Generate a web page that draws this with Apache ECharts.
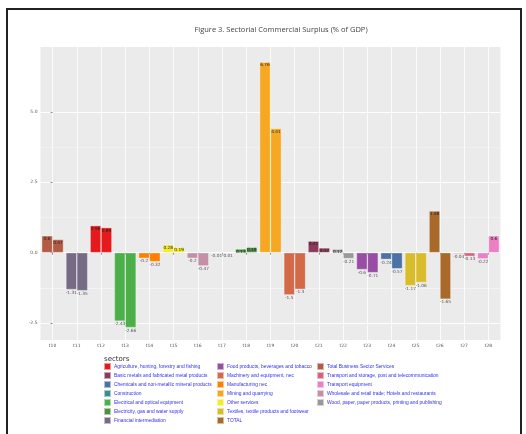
<!DOCTYPE html>
<html>
<head>
<meta charset="utf-8">
<script src="https://cdn.jsdelivr.net/npm/echarts@6/dist/echarts.min.js"></script>
<style>
html,body{margin:0;padding:0;background:#fff;}
#wrap{position:relative;width:526px;height:434px;overflow:hidden;}
#chart{position:absolute;left:0;top:0;width:526px;height:434px;}
#frame{position:absolute;left:6px;top:8px;width:512px;height:440px;border:2px solid #222;pointer-events:none;}
</style>
</head>
<body>
<div id="wrap"><div id="chart"></div><div id="frame"></div></div>
<script>
// ---- data ----
const title = 'Figure 3. Sectorial Commercial Surplus (% of GDP)';
const categories = ['t10','t11','t12','t13','t14','t15','t16','t17','t18','t19','t20','t21','t22','t23','t24','t25','t26','t27','t28'];
const yTickValues = [-2.5, 0, 2.5, 5];
// sectors in legend order
const sectors = [
  'Agriculture, hunting, forestry and fishing',
  'Basic metals and fabricated metal products',
  'Chemicals and non-metallic mineral products',
  'Construction',
  'Electrical and optical equipment',
  'Electricity, gas and water supply',
  'Financial intermediation',
  'Food products, beverages and tobacco',
  'Machinery and equipment, nec',
  'Manufacturing nec',
  'Mining and quarrying',
  'Other services',
  'Textiles, textile products and footwear',
  'TOTAL',
  'Total Business Sector Services',
  'Transport and storage, post and telecommunication',
  'Transport equipment',
  'Wholesale and retail trade; Hotels and restaurants',
  'Wood, paper, paper products, printing and publishing'
];
// category of each sector (index into categories)
const sectorCategory = [2, 11, 14, 7, 3, 8, 1, 13, 10, 4, 9, 5, 15, 16, 0, 17, 18, 6, 12];
// values per sector, first and second bar
const valuesFirst  = [0.96, 0.41, -0.24, -0.01, -2.43, 0.13, -1.31, -0.60, -1.50, -0.20, 6.76, 0.28, -1.17, 1.48, 0.60, -0.04, -0.22, -0.20, 0.12];
const valuesSecond = [0.89, 0.17, -0.57, -0.01, -2.66, 0.19, -1.35, -0.71, -1.30, -0.32, 4.41, 0.19, -1.06, -1.65, 0.47, -0.13, 0.60, -0.47, -0.21];
// colours (style)
const sectorColors = ['#E41A1C','#8B3A5C','#4A72A6','#3D8F8F','#4DAF4A','#4E8F45','#776A85','#984EA3','#D4694A','#FF7F00','#F7A823','#F3EC2E','#D9BC2B','#A9692A','#B25C45','#D9607E','#EC7FC4','#C68FA8','#999999'];

// ---- build ----
const chart = echarts.init(document.getElementById('chart'), null, {renderer:'canvas'});
const series = [];
function mkSeries(i, vals, stack) {
  const data = categories.map(() => '-');
  const v = vals[i];
  data[sectorCategory[i]] = {
    value: v,
    label: v >= 0
      ? {position: 'insideTop', distance: 1, color: '#222'}
      : {position: 'bottom', distance: 1, color: '#555'}
  };
  return {
    type: 'bar', name: sectors[i], stack: stack,
    xAxisIndex: 0, yAxisIndex: 0,
    barCategoryGap: '10%', barGap: '0%',
    itemStyle: {color: sectorColors[i], borderColor: 'rgba(255,255,255,0.55)', borderWidth: 0.6},
    label: {show: true, fontSize: 4.3, fontFamily: 'DejaVu Sans', formatter: p => String(p.value)},
    data: data
  };
}
sectors.forEach((s, i) => { series.push(mkSeries(i, valuesFirst, 'first')); });
sectors.forEach((s, i) => { series.push(mkSeries(i, valuesSecond, 'second')); });

const legendCommon = {
  orient: 'vertical', itemWidth: 7, itemHeight: 7, itemGap: 0, padding: 0, height: 70,
  icon: 'rect',
  textStyle: {fontSize: 4.9, lineHeight: 6, color: '#3030ee', fontFamily: 'Liberation Sans', padding: [0,0,0,-2]},
  selectedMode: false
};
const catIdx = categories.map((c, i) => i);

chart.setOption({
  animation: false,
  backgroundColor: 'transparent',
  title: [
    {text: title, left: 276, top: 21, textAlign: 'center',
     textStyle: {fontSize: 7.5, fontWeight: 'normal', color: '#444', fontFamily: 'Open Sans'}},
    {text: 'sectors', left: 99, top: 351,
     textStyle: {fontSize: 7, fontWeight: 'normal', color: '#333', fontFamily: 'DejaVu Sans'}}
  ],
  legend: [
    Object.assign({left: 103, top: 362, data: sectors.slice(0, 7)}, legendCommon),
    Object.assign({left: 216, top: 362, data: sectors.slice(7, 14)}, legendCommon),
    Object.assign({left: 316, top: 362, data: sectors.slice(14)}, legendCommon)
  ],
  grid: {left: 40.5, right: 25.5, top: 47, bottom: 94, show: true, backgroundColor: '#EBEBEB', borderWidth: 0},
  xAxis: [
    {type: 'category', data: categories,
     axisLine: {show: false},
     axisTick: {show: true, alignWithLabel: true, length: 2, lineStyle: {color: '#444', width: 0.6}},
     axisLabel: {fontSize: 4.5, color: '#555', margin: 3, fontFamily: 'DejaVu Sans'},
     splitLine: {show: false}},
    {type: 'value', min: -0.5, max: categories.length - 0.5, show: true,
     axisLine: {show: false}, axisLabel: {show: false},
     axisTick: {show: false, customValues: catIdx},
     splitLine: {show: true, lineStyle: {color: '#fff', width: 0.8}}}
  ],
  yAxis: [
    {type: 'value', min: -3.1, max: 7.3,
     axisLine: {show: false},
     axisTick: {show: true, length: 2, customValues: yTickValues, lineStyle: {color: '#444', width: 0.6}},
     axisLabel: {fontSize: 4.5, color: '#555', margin: 3, customValues: yTickValues,
                 fontFamily: 'DejaVu Sans', formatter: v => v.toFixed(1)},
     splitLine: {show: true, lineStyle: {color: '#fff', width: 0.9}}},
    {type: 'value', min: -3.1, max: 7.3, position: 'left',
     axisLine: {show: false}, axisLabel: {show: false},
     axisTick: {show: false, customValues: yTickValues.slice(0, -1).map(v => v + 1.25).concat([-1.25])},
     splitLine: {show: true, lineStyle: {color: '#f7f7f7', width: 0.5}}}
  ],
  series: series
});
</script>
</body>
</html>
